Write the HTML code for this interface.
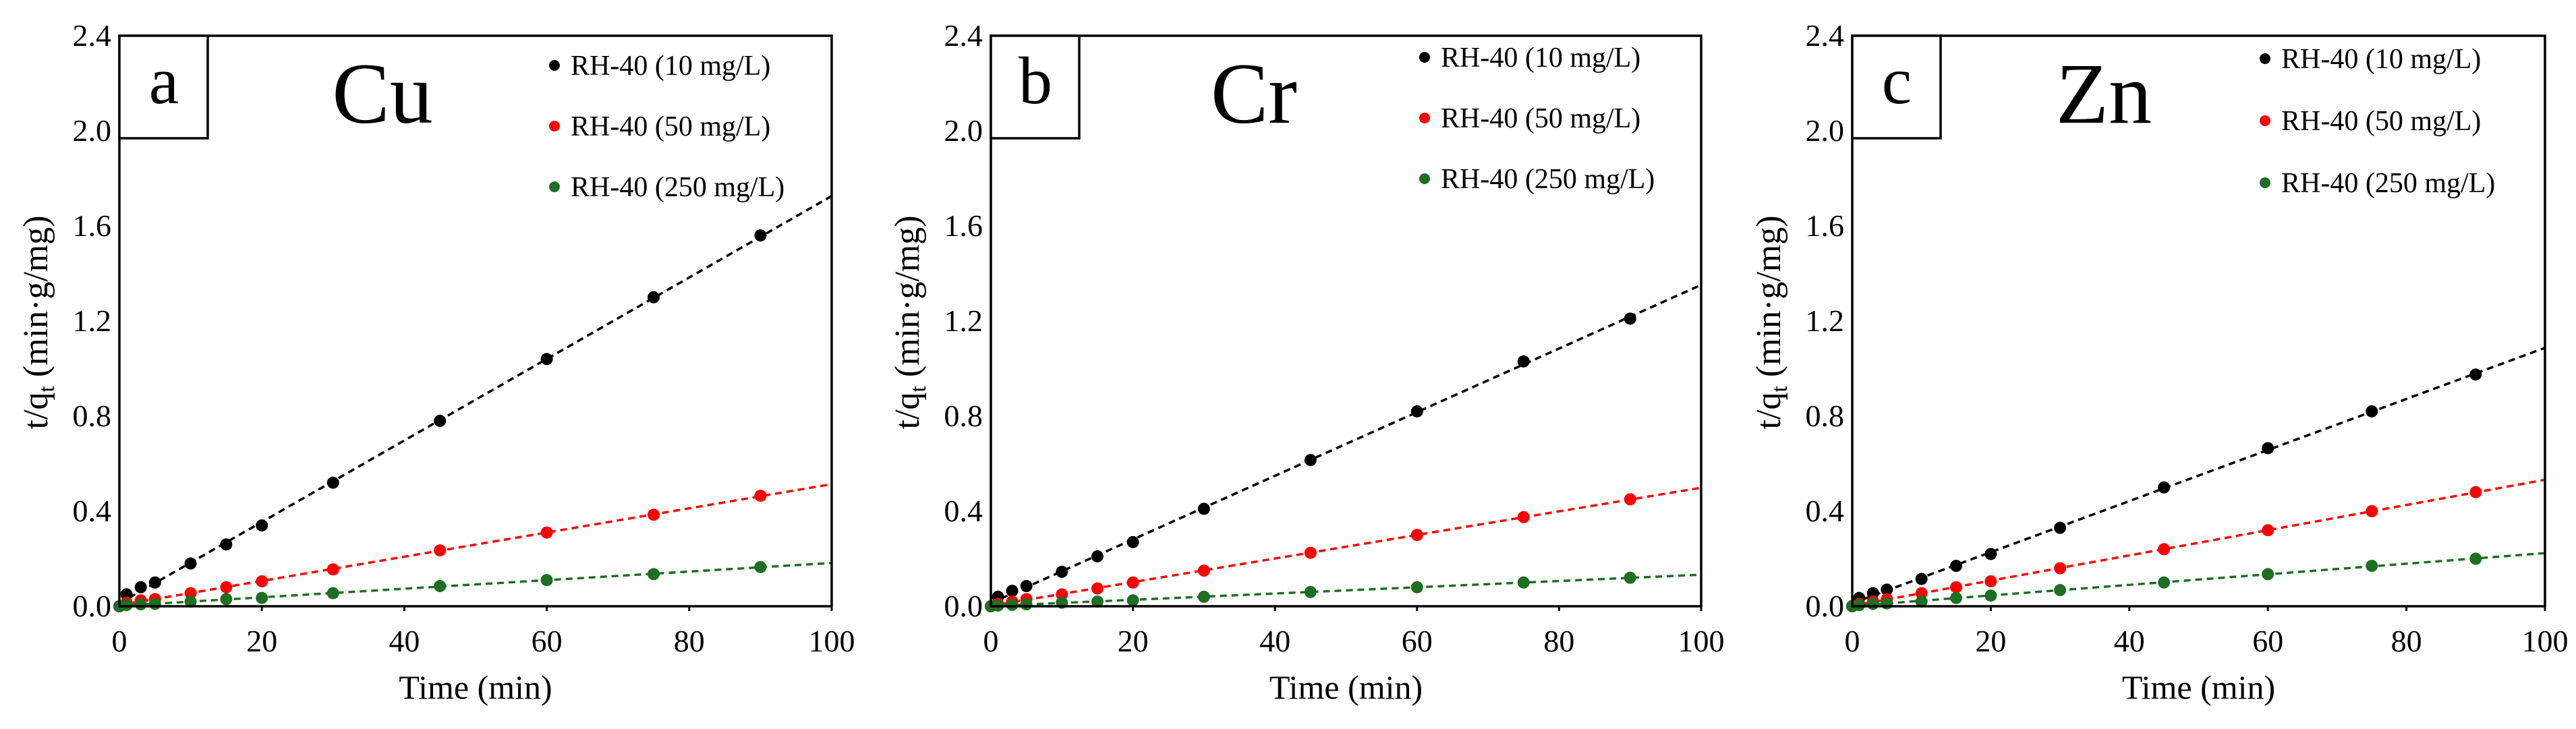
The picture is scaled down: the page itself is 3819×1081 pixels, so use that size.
<!DOCTYPE html>
<html><head><meta charset="utf-8"><style>
html,body{margin:0;padding:0;background:#fff;}
svg{display:block;}
svg text{font-family:"Liberation Serif","Times New Roman",serif;}
</style></head><body>
<svg id="chart" width="3819" height="1081" viewBox="0 0 3819 1081" xmlns="http://www.w3.org/2000/svg" font-family="Liberation Serif, serif"></svg>
<script>
const times = [0,1,3,5,10,15,20,30,45,60,75,90];
const seriesNames = ["RH-40 (10 mg/L)","RH-40 (50 mg/L)","RH-40 (250 mg/L)"];
const cuBlack = [0,0.05,0.08,0.10,0.18,0.26,0.34,0.52,0.78,1.04,1.30,1.56];
const cuRed = [0,0.015,0.025,0.03,0.055,0.08,0.105,0.155,0.235,0.31,0.385,0.465];
const cuGreen = [0,0.005,0.008,0.01,0.02,0.03,0.035,0.055,0.085,0.11,0.135,0.165];
const crBlack = [0,0.04,0.065,0.085,0.145,0.21,0.27,0.41,0.615,0.82,1.03,1.21];
const crRed = [0,0.01,0.02,0.03,0.05,0.075,0.1,0.15,0.225,0.3,0.375,0.45];
const crGreen = [0,0.003,0.006,0.008,0.015,0.02,0.025,0.04,0.06,0.08,0.1,0.12];
const znBlack = [0,0.035,0.055,0.07,0.115,0.17,0.22,0.33,0.5,0.665,0.82,0.975];
const znRed = [0,0.01,0.02,0.03,0.055,0.08,0.105,0.16,0.24,0.32,0.4,0.48];
const znGreen = [0,0.005,0.01,0.012,0.02,0.035,0.045,0.068,0.1,0.135,0.17,0.2];
const xTicks = [0,20,40,60,80,100];
const yTicks = [0.0,0.4,0.8,1.2,1.6,2.0,2.4];
const panelLetters = ["a","b","c"];
const metals = ["Cu","Cr","Zn"];

const colors = ["#000000","#ff0000","#1e6e23"];
const panels = [
  {L:177,R:1233,ytx:54,leg:[822,97,90],series:[cuBlack,cuRed,cuGreen]},
  {L:1469,R:2522,ytx:1346,leg:[2112,85,90],series:[crBlack,crRed,crGreen]},
  {L:2746,R:3773,ytx:2623,leg:[3358,87,92],series:[znBlack,znRed,znGreen]}
];
const T=53,B=899;
const FF='"Liberation Serif", serif';
const svg=document.getElementById('chart');
const NS="http://www.w3.org/2000/svg";
function mk(tag,attrs,parent){const e=document.createElementNS(NS,tag);for(const k in attrs)e.setAttribute(k,attrs[k]);if(tag==='text'){e.setAttribute('font-family',FF);e.style.fontFamily=FF;}(parent||svg).appendChild(e);return e;}
function fit(xs,ys){let n=xs.length,sx=0,sy=0,sxx=0,sxy=0;for(let i=0;i<n;i++){sx+=xs[i];sy+=ys[i];sxx+=xs[i]*xs[i];sxy+=xs[i]*ys[i];}const m=(n*sxy-sx*sy)/(n*sxx-sx*sx);return [m,(sy-m*sx)/n];}

panels.forEach((p,pi)=>{
  const g=mk('g',{});
  
  
  const xs=v=>p.L+(v/100)*(p.R-p.L);
  const ys=v=>B-(v/2.4)*(B-T);
  xTicks.forEach(t=>{
    const tk=mk('line',{x1:xs(t),x2:xs(t),y1:B,y2:B+7,stroke:'#000','stroke-width':3},g);
    
    
    const tl=mk('text',{x:xs(t),y:966,'font-size':46,'text-anchor':'middle'},g);
    tl.textContent=t;
    
    
  });
  yTicks.forEach(t=>{
    const tl=mk('text',{x:p.L-12,y:ys(t)+15,'font-size':46,'text-anchor':'end'},g);
    tl.textContent=t.toFixed(1);
    
    
  });
  const xt=mk('text',{x:(p.L+p.R)/2,y:1036,'font-size':50,'text-anchor':'middle'},g);
  xt.textContent='Time (min)';
  
  
  const yt=mk('text',{x:0,y:0,'font-size':52,'text-anchor':'middle',transform:`translate(${p.ytx+16},478) rotate(-90)`},g);
  yt.innerHTML='t/q<tspan font-size="34" dy="10">t</tspan><tspan dy="-10"> (min·g/mg)</tspan>';
  
  
  p.series.forEach((vals,si)=>{
    const [m,b]=fit(times,vals);
    const ln=mk('line',{x1:xs(0),y1:ys(b),x2:xs(100),y2:ys(b+m*100),stroke:colors[si],'stroke-width':3.5,'stroke-dasharray':'10 7'},g);
    
    
    vals.forEach((v,i)=>{
      const c=mk('circle',{cx:xs(times[i]),cy:ys(v),r:9,fill:colors[si]},g);
      
      
    });
    const ly=p.leg[1]+si*p.leg[2];
    const lm=mk('circle',{cx:p.leg[0],cy:ly,r:8,fill:colors[si]},g);
    
    
    const lt=mk('text',{x:p.leg[0]+24,y:ly+14,'font-size':42},g);
    lt.textContent=seriesNames[si];
    
    
  });
  const fr=mk('rect',{x:p.L,y:T,width:p.R-p.L,height:B-T,fill:'none',stroke:'#000','stroke-width':3.5},g);
  
  
  const bx=mk('rect',{x:p.L,y:T,width:131,height:152,fill:'#fff',stroke:'#000','stroke-width':3.5},g);
  
  
  const lt=mk('text',{x:p.L+66,y:153,'font-size':100,'text-anchor':'middle'},g);
  lt.textContent=panelLetters[pi];
  
  
  const mt=mk('text',{x:p.L+(pi==2?373:390),y:182,'font-size':128,'text-anchor':'middle'},g);
  mt.textContent=metals[pi];
  
  
});
</script>
</body></html>
